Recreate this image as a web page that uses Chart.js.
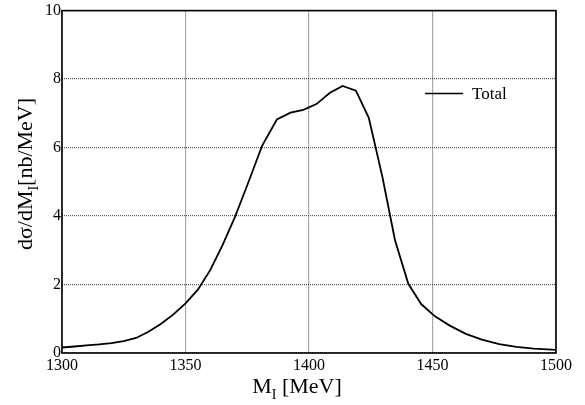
<!DOCTYPE html>
<html>
<head>
<meta charset="utf-8">
<script src="https://cdn.jsdelivr.net/npm/chart.js@4/dist/chart.umd.min.js"></script>
<style>
  html, body { margin: 0; padding: 0; background: #fff; }
  #wrap { width: 585px; height: 405px; }
</style>
</head>
<body>
<div id="wrap"><canvas id="c" width="585" height="405"></canvas></div>
<script>
// ---- data ----
const massMeV = [1300, 1305, 1310, 1315, 1320, 1325, 1330, 1335, 1340, 1345, 1350, 1355, 1360, 1365, 1370, 1375, 1381, 1387, 1392.5, 1397.7, 1403, 1408.5, 1413.6, 1419, 1424.2, 1429.7, 1434.8, 1440.2, 1445.4, 1451, 1457, 1463.5, 1470, 1477, 1484, 1491, 1500];
const totalValues = [0.16, 0.19, 0.22, 0.25, 0.29, 0.35, 0.44, 0.62, 0.85, 1.12, 1.45, 1.85, 2.42, 3.15, 3.97, 4.90, 6.05, 6.82, 7.02, 7.10, 7.27, 7.60, 7.80, 7.66, 6.87, 5.15, 3.30, 2.02, 1.43, 1.07, 0.80, 0.56, 0.39, 0.26, 0.18, 0.13, 0.09];
const seriesName = 'Total';
const xTicks = [1300, 1350, 1400, 1450, 1500];
const yTicks = [0, 2, 4, 6, 8, 10];
const xTitle = { main: 'M', sub: 'I', rest: ' [MeV]' };
const yTitle = { main: 'd\u03C3/dM', sub: 'I', rest: '[nb/MeV]' };

const SERIF = '"Liberation Serif", "DejaVu Serif", serif';

const points = massMeV.map((m, i) => ({ x: m, y: totalValues[i] }));

function drawSubText(ctx, parts, size) {
  ctx.font = size + 'px ' + SERIF;
  let x = 0;
  ctx.fillText(parts.main, x, 0);
  x += ctx.measureText(parts.main).width;
  ctx.font = Math.round(size * 0.65) + 'px ' + SERIF;
  ctx.fillText(parts.sub, x, size * 0.25);
  x += ctx.measureText(parts.sub).width;
  ctx.font = size + 'px ' + SERIF;
  ctx.fillText(parts.rest, x, 0);
  x += ctx.measureText(parts.rest).width;
  return x;
}
function measureSubText(ctx, parts, size) {
  ctx.font = size + 'px ' + SERIF;
  let w = ctx.measureText(parts.main).width + ctx.measureText(parts.rest).width;
  ctx.font = Math.round(size * 0.65) + 'px ' + SERIF;
  w += ctx.measureText(parts.sub).width;
  return w;
}

const decorPlugin = {
  id: 'decor',
  afterDraw(chart) {
    const ctx = chart.ctx;
    const a = chart.chartArea;
    ctx.save();
    // frame
    ctx.strokeStyle = '#000';
    ctx.lineWidth = 1.6;
    ctx.setLineDash([]);
    ctx.strokeRect(a.left, a.top, a.right - a.left, a.bottom - a.top);

    // legend
    const ds = chart.data.datasets[0];
    const ly = a.top + (a.bottom - a.top) * 0.242;
    const lx0 = a.left + (a.right - a.left) * 0.735;
    ctx.beginPath();
    ctx.lineWidth = 1.5;
    ctx.moveTo(lx0, ly);
    ctx.lineTo(lx0 + 38, ly);
    ctx.stroke();
    ctx.fillStyle = '#000';
    ctx.font = '17px ' + SERIF;
    ctx.textBaseline = 'middle';
    ctx.textAlign = 'left';
    ctx.fillText(ds.label, lx0 + 47, ly + 1);

    // axis titles
    ctx.textBaseline = 'alphabetic';
    const tSize = 22;
    const xw = measureSubText(ctx, xTitle, tSize);
    ctx.save();
    ctx.translate(297 - xw / 2, 393);
    drawSubText(ctx, xTitle, tSize);
    ctx.restore();

    const yw = measureSubText(ctx, yTitle, tSize);
    ctx.save();
    ctx.translate(32, 174 + yw / 2);
    ctx.rotate(-Math.PI / 2);
    drawSubText(ctx, yTitle, tSize);
    ctx.restore();
    ctx.restore();
  }
};

new Chart(document.getElementById('c'), {
  type: 'line',
  data: {
    datasets: [{
      label: seriesName,
      data: points,
      borderColor: '#000',
      borderWidth: 1.8,
      pointRadius: 0,
      tension: 0,
      fill: false
    }]
  },
  options: {
    responsive: false,
    animation: false,
    devicePixelRatio: 1,
    layout: { padding: { left: 0, top: 10, right: 29, bottom: 0 } },
    plugins: { legend: { display: false }, tooltip: { enabled: false } },
    scales: {
      x: {
        type: 'linear',
        min: xTicks[0],
        max: xTicks[xTicks.length - 1],
        afterBuildTicks(scale) { scale.ticks = xTicks.map(v => ({ value: v })); },
        afterFit(scale) { scale.height = 52; },
        grid: { color: '#555', lineWidth: 1.2, drawTicks: false },
        border: { display: false, dash: [1, 1] },
        ticks: {
          color: '#000',
          padding: 3,
          maxRotation: 0,
          autoSkip: false,
          callback: v => String(v),
          font: { family: SERIF, size: 16 }
        }
      },
      y: {
        type: 'linear',
        min: yTicks[0],
        max: yTicks[yTicks.length - 1],
        afterBuildTicks(scale) { scale.ticks = yTicks.map(v => ({ value: v })); },
        afterFit(scale) { scale.width = 62; },
        grid: { color: '#555', lineWidth: 1.2, drawTicks: false },
        border: { display: false, dash: [1, 1] },
        ticks: {
          color: '#000',
          padding: 1,
          autoSkip: false,
          callback: v => String(v),
          font: { family: SERIF, size: 16 }
        }
      }
    }
  },
  plugins: [decorPlugin]
});
</script>
</body>
</html>
